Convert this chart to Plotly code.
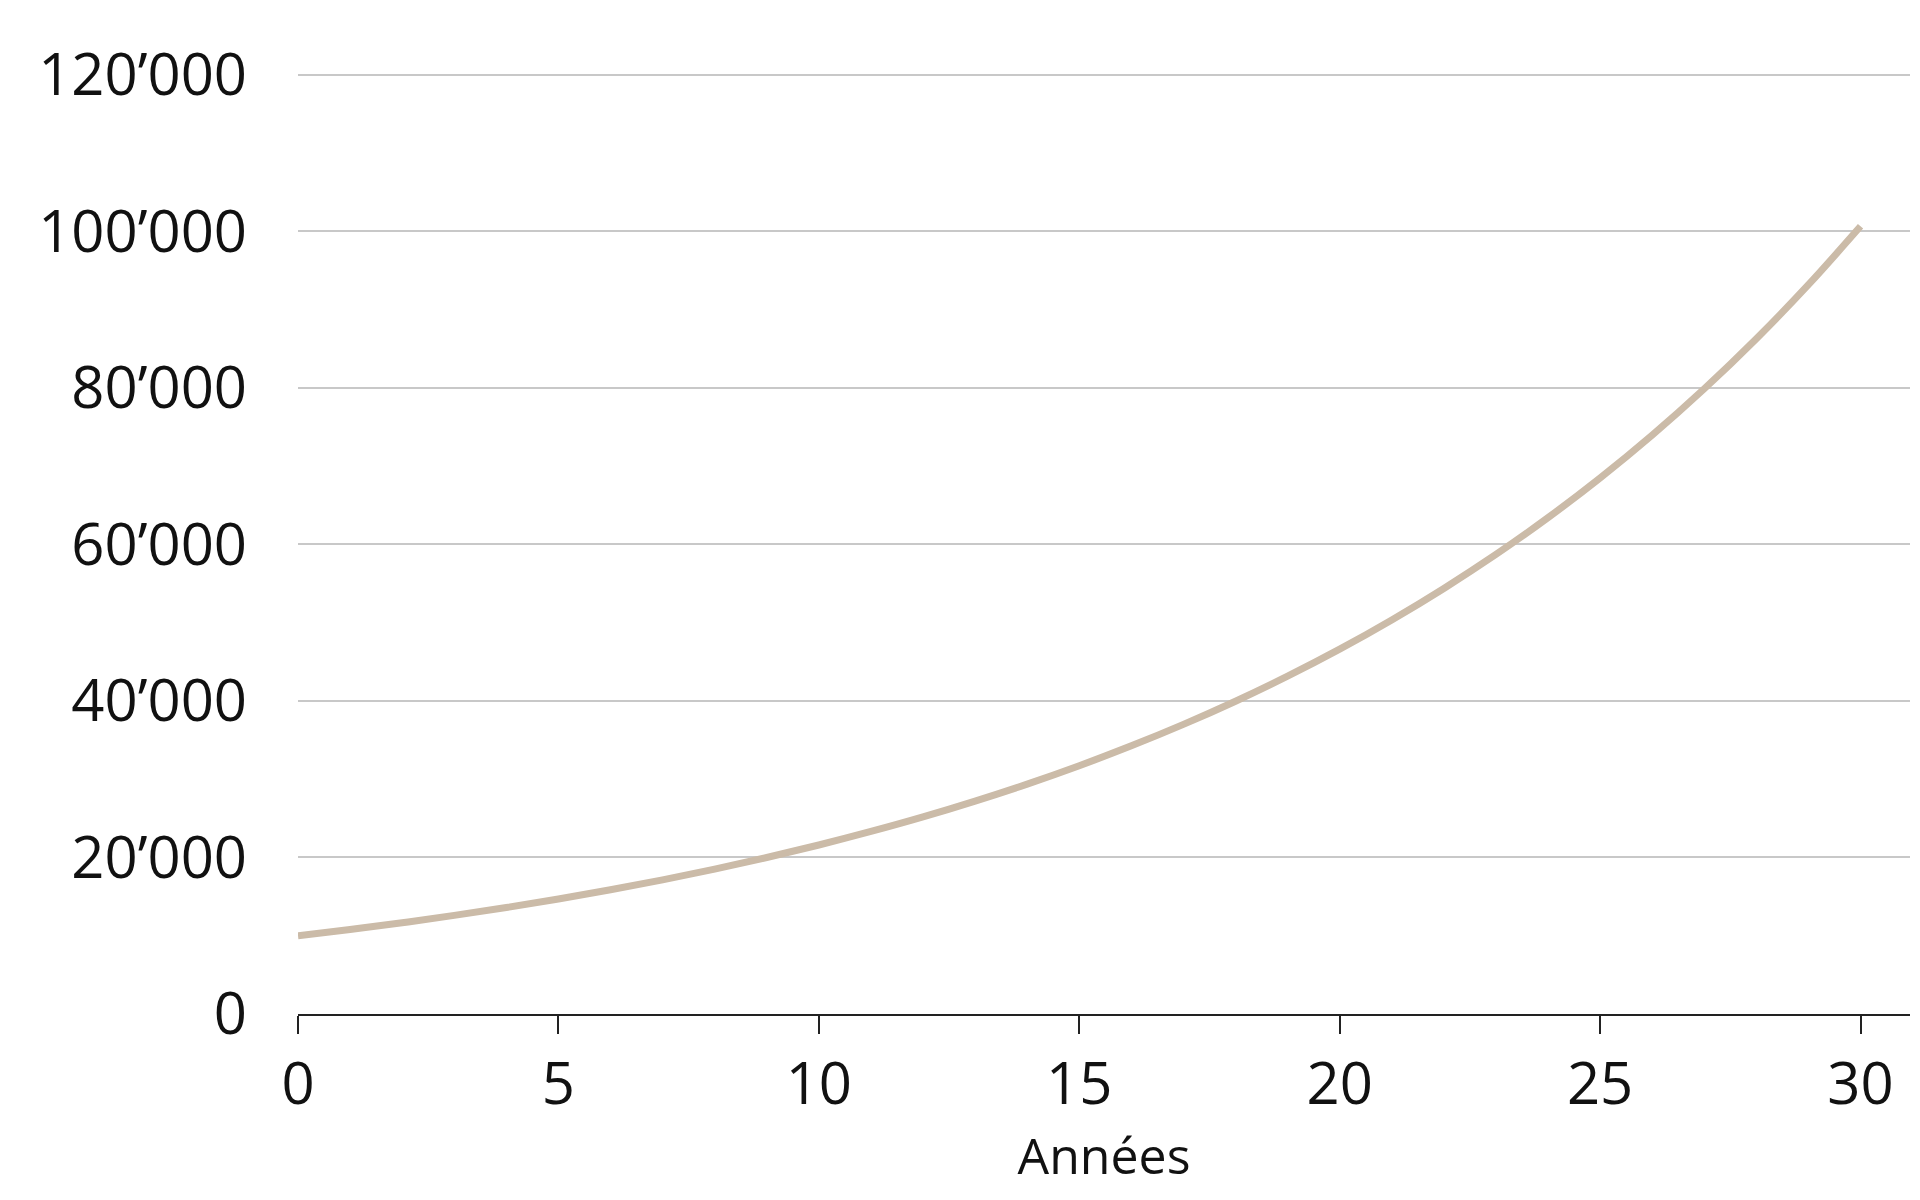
import plotly.graph_objects as go

# values (capital after n years)
years = list(range(0, 31))
capital = [10000, 10800, 11660, 12600, 13600, 14690, 15870, 17140, 18510, 19990,
           21590, 23320, 25180, 27200, 29370, 31720, 34260, 37000, 39960, 43160,
           46610, 50340, 54370, 58710, 63410, 68480, 73960, 79880, 86270, 93170, 100630]

y_ticks = [0, 20000, 40000, 60000, 80000, 100000, 120000]
y_labels = ["0", "20’000", "40’000", "60’000", "80’000", "100’000", "120’000"]
x_ticks = [0, 5, 10, 15, 20, 25, 30]

fig = go.Figure()
fig.add_trace(go.Scatter(x=years, y=capital, mode="lines",
                         line=dict(color="#cbbba8", width=7, shape="spline")))

fig.update_layout(
    width=1920, height=1200,
    plot_bgcolor="white", paper_bgcolor="white",
    showlegend=False,
    font=dict(family="Open Sans", size=58, color="#111111"),
    margin=dict(l=290, r=18, t=62, b=194),
    xaxis=dict(range=[0, 30.95], tickvals=x_ticks, showgrid=False, zeroline=False,
               showline=True, linecolor="#222222", linewidth=2,
               ticks="outside", ticklen=18, tickcolor="#222222", tickwidth=2,
               title=dict(text="Années", standoff=18, font=dict(size=50))),
    yaxis=dict(range=[0, 120600], tickvals=y_ticks, ticktext=y_labels,
               showgrid=True, gridcolor="#c8c8c8", gridwidth=1.5, zeroline=False,
               ticks="", ticklabelstandoff=50),
)

fig.write_html("out.html")
